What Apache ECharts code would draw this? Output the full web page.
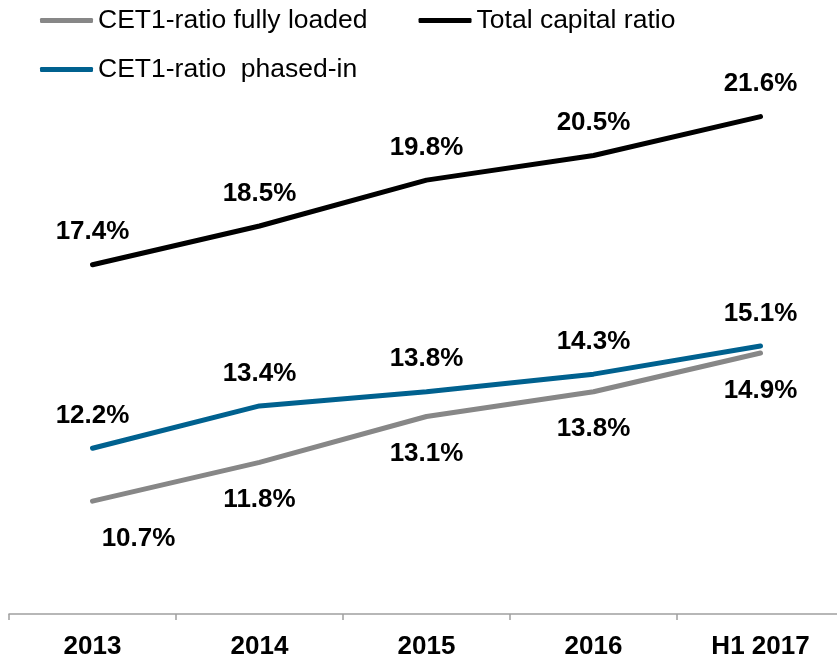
<!DOCTYPE html>
<html lang="en">
<head>
  <meta charset="UTF-8" />
  <title>Capital ratios</title>
  <script src="https://cdn.jsdelivr.net/npm/echarts@6/dist/echarts.min.js"></script>
  <style>
    html, body { margin: 0; background: #fff; overflow: hidden; }
    /* the last category band runs a few pixels past the right edge in the original */
    #chart { width: 844px; height: 660px; }
  </style>
</head>
<body>
  <div id="chart"></div>
  <script>
    // data
    const categories = ['2013', '2014', '2015', '2016', 'H1 2017'];
    const fullyLoaded = [10.7, 11.8, 13.1, 13.8, 14.9];
    const totalCapital = [17.4, 18.5, 19.8, 20.5, 21.6];
    const phasedIn = [12.2, 13.4, 13.8, 14.3, 15.1];

    const FONT = 'Arial, "Liberation Sans", sans-serif';

    const labelStyle = {
      show: true,
      fontFamily: FONT,
      fontSize: 26,
      fontWeight: 'bold',
      color: '#000',
      formatter: p => p.value.toFixed(1) + '%'
    };

    function lineSeries(name, values, color, labelPos, dist) {
      return {
        name: name,
        type: 'line',
        data: values,
        symbol: 'circle',
        symbolSize: 1,
        showSymbol: true,
        itemStyle: { color: color },
        lineStyle: { color: color, width: 5, cap: 'round' },
        label: Object.assign({}, labelStyle, { position: labelPos, distance: dist }),
        emphasis: { disabled: true }
      };
    }

    const gray = lineSeries('CET1-ratio fully loaded', fullyLoaded, '#878787', 'bottom', 24);
    // first label of the fully loaded series sits to the right of the point
    gray.data = fullyLoaded.map((v, i) => i === 0 ? { value: v, label: { offset: [46, 0] } } : v);

    const legendText = { fontFamily: FONT, fontSize: 26.5, color: '#000' };

    const chart = echarts.init(document.getElementById('chart'));
    chart.setOption({
      animation: false,
      legend: [
        {
          data: ['CET1-ratio fully loaded', 'Total capital ratio'],
          left: 35, top: 2,
          itemWidth: 53, itemHeight: 5, itemGap: 51,
          icon: 'roundRect',
          textStyle: legendText
        },
        {
          data: ['CET1-ratio  phased-in'],
          left: 35, top: 51,
          itemWidth: 53, itemHeight: 5,
          icon: 'roundRect',
          textStyle: legendText
        }
      ],
      grid: { left: 9, right: 0, top: 32, bottom: 45, containLabel: false },
      xAxis: {
        type: 'category',
        data: categories,
        boundaryGap: true,
        axisLine: { lineStyle: { color: '#a0a0a0', width: 1.5 } },
        axisTick: { show: true, length: 6, lineStyle: { color: '#a0a0a0', width: 1.5 } },
        axisLabel: { fontFamily: FONT, fontSize: 26, fontWeight: 'bold', color: '#000', margin: 20 }
      },
      yAxis: {
        type: 'value',
        min: 7.5,
        max: 24,
        show: false,
        splitLine: { show: false }
      },
      series: [
        gray,
        lineSeries('Total capital ratio', totalCapital, '#000000', 'top', 19),
        lineSeries('CET1-ratio  phased-in', phasedIn, '#00618f', 'top', 19)
      ]
    });
  </script>
</body>
</html>
